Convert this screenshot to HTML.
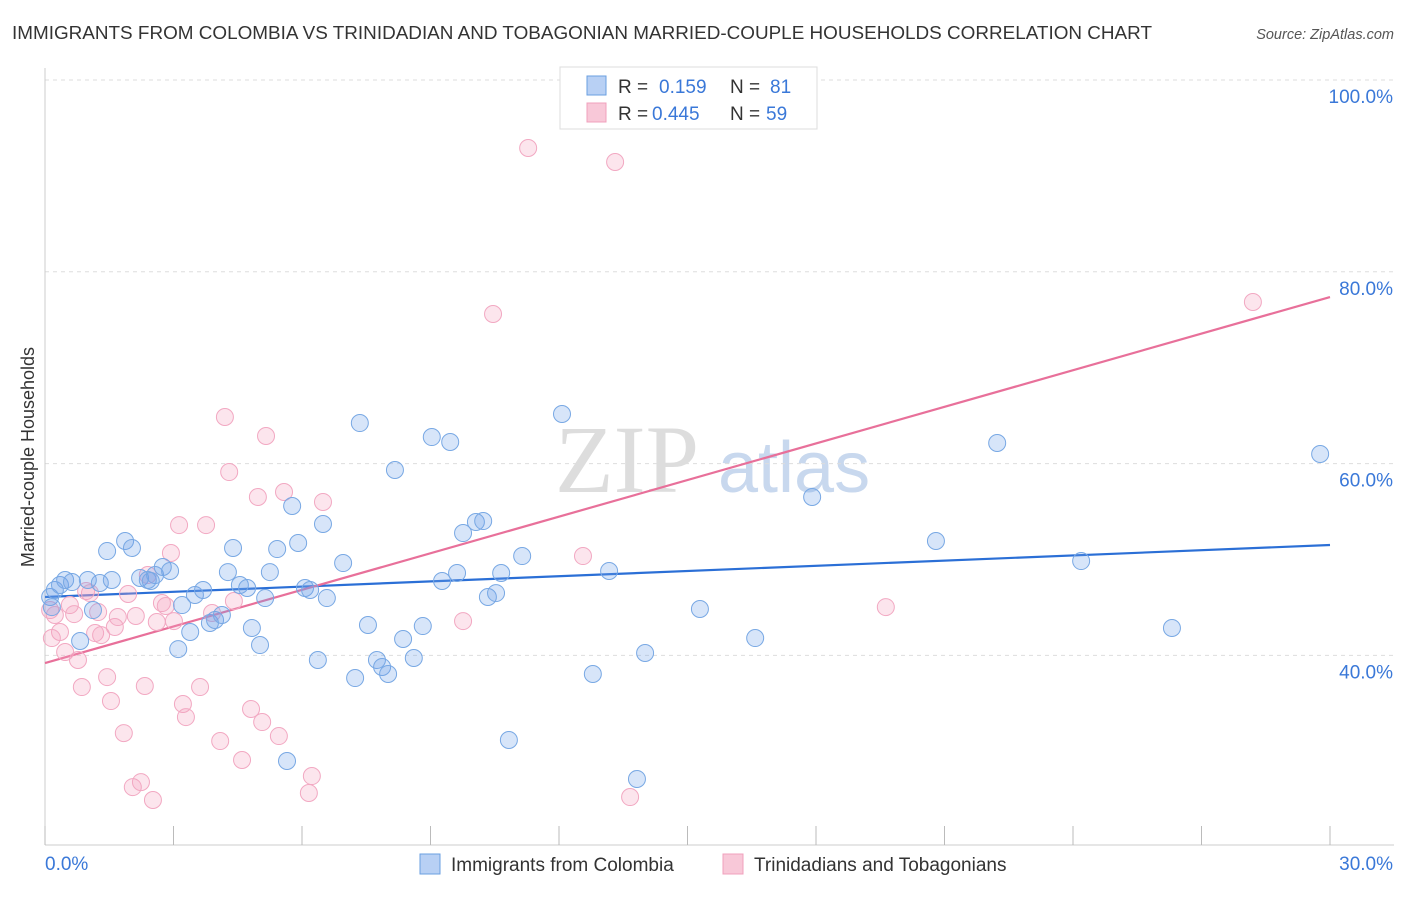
<!DOCTYPE html>
<html><head><meta charset="utf-8">
<style>
body{margin:0;background:#fff;font-family:"Liberation Sans",sans-serif;}
svg text{font-family:"Liberation Sans",sans-serif;}
</style></head>
<body>
<svg id="chart" width="1406" height="892" viewBox="0 0 1406 892">
<text x="12" y="39" font-size="18" fill="#333" textLength="1140" lengthAdjust="spacingAndGlyphs">IMMIGRANTS FROM COLOMBIA VS TRINIDADIAN AND TOBAGONIAN MARRIED-COUPLE HOUSEHOLDS CORRELATION CHART</text>
<text x="1394" y="39" font-size="14.5" fill="#555" font-style="italic" text-anchor="end">Source: ZipAtlas.com</text>
<text x="555" y="492" font-size="96" fill="#ddd" style="font-family:'Liberation Serif',serif">ZIP</text>
<text x="718" y="492" font-size="72" fill="#c8d8ee">atlas</text>
<g id="grid"></g>
<g id="axes"></g>
<g id="lines"></g>
<g id="points"></g>
<text transform="translate(34,457) rotate(-90)" font-size="18" fill="#333" text-anchor="middle">Married-couple Households</text>
<g>
<rect x="560" y="67" width="257" height="62" fill="#fff" stroke="#ddd"/>
<rect x="587" y="76" width="19" height="19" fill="#b8d0f4" stroke="#6a9fe0"/>
<text x="618" y="93" font-size="19" fill="#333">R =</text>
<text x="659" y="93" font-size="19" fill="#3a78d8">0.159</text>
<text x="730" y="93" font-size="19" fill="#333">N =</text>
<text x="770" y="93" font-size="19" fill="#3a78d8">81</text>
<rect x="587" y="103" width="19" height="19" fill="#f8c8d8" stroke="#f0a0bc"/>
<text x="618" y="120" font-size="19" fill="#333">R =</text>
<text x="652" y="120" font-size="19" fill="#3a78d8">0.445</text>
<text x="730" y="120" font-size="19" fill="#333">N =</text>
<text x="766" y="120" font-size="19" fill="#3a78d8">59</text>
</g>
<g>
<rect x="420" y="854" width="20" height="20" fill="#b8d0f4" stroke="#6a9fe0"/>
<text x="451" y="871" font-size="19" fill="#333">Immigrants from Colombia</text>
<rect x="723" y="854" width="20" height="20" fill="#f8c8d8" stroke="#f0a0bc"/>
<text x="754" y="871" font-size="19" fill="#333">Trinidadians and Tobagonians</text>
</g>
</svg>
<script>
const yTicks=[40,60,80,100];
const yTickLabels=["40.0%","60.0%","80.0%","100.0%"];
const xTickVals=[0,3,6,9,12,15,18,21,24,27,30];
const xEndLabels=["0.0%","30.0%"];
const blueX=[0.12,0.23,0.35,0.47,0.63,1.00,1.28,1.45,1.56,1.87,2.03,2.22,2.40,2.57,2.75,2.92,3.20,3.11,3.39,3.50,3.69,3.85,3.97,4.13,4.27,4.39,4.55,4.72,4.83,5.02,5.14,5.25,5.42,5.65,5.77,5.91,6.07,6.19,6.37,6.49,6.58,6.96,7.24,7.35,7.54,7.75,7.87,8.01,8.17,8.36,8.61,8.82,9.03,9.27,9.46,9.62,9.76,10.06,10.23,10.34,10.53,10.65,10.83,11.14,12.07,12.79,13.17,13.82,14.01,15.29,16.58,17.91,20.80,22.23,24.19,26.31,29.77,0.82,1.12,2.47,0.16];
const blueY=[46.09,46.82,47.34,47.86,47.65,47.86,47.55,50.88,47.86,51.93,51.20,48.07,47.86,48.38,49.22,48.80,45.25,40.66,42.44,46.30,46.82,43.38,43.69,44.21,48.69,51.20,47.34,47.03,42.86,41.08,45.98,48.69,51.09,28.99,55.58,51.72,47.03,46.82,39.52,53.70,45.98,49.63,37.64,64.23,43.17,39.52,38.79,38.06,59.33,41.71,39.73,43.06,62.77,47.76,62.25,48.59,52.76,53.91,54.01,46.09,46.50,48.59,31.18,50.36,65.17,38.06,48.80,27.11,40.25,44.84,41.81,56.52,51.93,62.15,49.84,42.86,61.00,41.50,44.73,47.76,45.04];
const pinkX=[0.12,0.23,0.35,0.47,0.58,0.68,0.77,0.86,0.96,1.05,1.17,1.24,1.31,1.45,1.54,1.63,1.70,1.84,1.94,2.05,2.12,2.24,2.33,2.40,2.52,2.61,2.73,2.82,2.94,3.01,3.13,3.22,3.29,3.62,3.76,3.90,4.09,4.20,4.30,4.41,4.60,4.81,4.97,5.07,5.16,5.46,5.58,6.16,6.23,6.49,9.76,10.46,11.28,12.56,13.31,13.66,19.63,28.20,0.16];
const pinkY=[44.73,44.21,42.44,40.35,45.25,44.31,39.52,36.70,46.71,46.50,42.33,44.52,42.12,37.74,35.24,42.96,44.00,31.90,46.40,26.27,44.11,26.79,36.81,48.38,24.92,43.48,45.46,45.15,50.68,43.58,53.59,34.93,33.57,36.70,53.59,44.42,31.07,64.86,59.12,45.67,29.09,34.41,56.52,33.05,62.88,31.59,57.04,25.65,27.42,56.00,43.58,75.60,92.91,50.36,91.45,25.23,45.04,76.85,41.81];
const blueTrend=[46.09,51.51];
const pinkTrend=[39.20,77.37];
const trendX=[0,30];

const NS="http://www.w3.org/2000/svg";
function sx(v){return 45+v/30*1285;}
function sy(v){return 80+(100-v)*9.59;}
function mk(tag,attrs,parent){const e=document.createElementNS(NS,tag);for(const k in attrs)e.setAttribute(k,attrs[k]);parent.appendChild(e);return e;}
const grid=document.getElementById('grid'),axes=document.getElementById('axes'),lines=document.getElementById('lines'),pts=document.getElementById('points');
yTicks.forEach((t,i)=>{
  const l=mk('line',{x1:45,x2:1394,y1:sy(t),y2:sy(t),stroke:'#ddd','stroke-dasharray':'4,4'},grid);
  
  
  const tx=mk('text',{x:1393,y:sy(t)+23,'font-size':19,fill:'#3a78d8','text-anchor':'end'},axes);
  tx.textContent=yTickLabels[i];
  
  
});
const ax=mk('line',{x1:45,x2:1394,y1:845,y2:845,stroke:'#ccc'},axes);


const ay=mk('line',{x1:45,x2:45,y1:68,y2:845,stroke:'#ccc'},axes);


xTickVals.forEach(t=>{
  const l=mk('line',{x1:sx(t),x2:sx(t),y1:826,y2:845,stroke:'#bbb'},axes);
  
  
});
const xl0=mk('text',{x:45,y:870,'font-size':19,fill:'#3a78d8'},axes);xl0.textContent=xEndLabels[0];


const xl1=mk('text',{x:1393,y:870,'font-size':19,fill:'#3a78d8','text-anchor':'end'},axes);xl1.textContent=xEndLabels[1];


function drawPts(X,Y,fill,stroke,name){X.forEach((x,i)=>{
  const c=mk('circle',{cx:sx(x),cy:sy(Y[i]),r:8.5,fill:fill,stroke:stroke,'stroke-width':1},pts);
  
  
});}
drawPts(pinkX,pinkY,'rgba(244,160,190,0.28)','#f2a8c2','trinidad-point');
drawPts(blueX,blueY,'rgba(110,160,232,0.28)','#78a8e4','colombia-point');
const bl=mk('line',{x1:sx(trendX[0]),y1:sy(blueTrend[0]),x2:sx(trendX[1]),y2:sy(blueTrend[1]),stroke:'#2b6fd6','stroke-width':2.2},lines);


const pl=mk('line',{x1:sx(trendX[0]),y1:sy(pinkTrend[0]),x2:sx(trendX[1]),y2:sy(pinkTrend[1]),stroke:'#e8709a','stroke-width':2.2},lines);


</script>
</body></html>
